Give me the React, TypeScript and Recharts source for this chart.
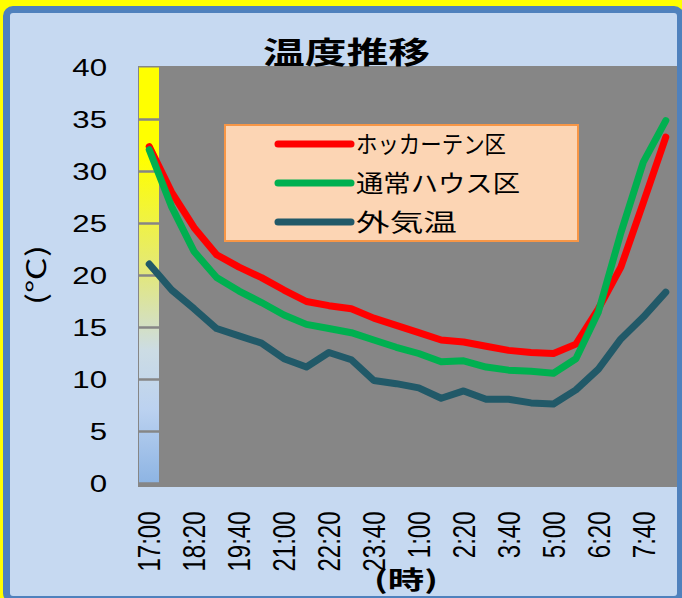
import { ComposedChart, Bar, Line, XAxis, YAxis, Legend } from 'recharts';

// 40-minute readings, 17:00 to 8:20 next morning
const times = [
  '17:00', '17:40', '18:20', '19:00', '19:40', '20:20', '21:00', '21:40',
  '22:20', '23:00', '23:40', '0:20', '1:00', '1:40', '2:20', '3:00',
  '3:40', '4:20', '5:00', '5:40', '6:20', '7:00', '7:40', '8:20',
];
const curtainTemps = [
  32.4, 28.0, 24.6, 22.0, 20.8, 19.8, 18.6, 17.5, 17.1, 16.8, 15.9, 15.2,
  14.5, 13.8, 13.6, 13.2, 12.8, 12.6, 12.5, 13.4, 16.8, 20.8, 27.0, 33.3,
];
const normalTemps = [
  32.1, 26.6, 22.3, 19.8, 18.5, 17.4, 16.2, 15.3, 14.9, 14.5, 13.8, 13.1,
  12.5, 11.7, 11.8, 11.2, 10.9, 10.8, 10.6, 12.0, 16.5, 24.1, 30.9, 34.9,
];
const outsideTemps = [
  21.1, 18.6, 16.8, 14.9, 14.2, 13.5, 12.0, 11.2, 12.6, 11.9, 9.9, 9.6,
  9.2, 8.2, 8.9, 8.1, 8.1, 7.75, 7.65, 9.0, 11.0, 13.9, 16.0, 18.4,
];
// colour scale column drawn in the first slot
const warmBand = [40];
const yTicks = [0, 5, 10, 15, 20, 25, 30, 35, 40];

const data = times.map((time, i) => ({
  time,
  curtain: curtainTemps[i],
  normal: normalTemps[i],
  outside: outsideTemps[i],
  band: warmBand[i] ?? null,
}));

const seriesOrder = ['curtain', 'normal', 'outside'];

const GRAY = '#868686';
const LATIN = '"Liberation Sans", Arial, sans-serif';
const CJK = '"Noto Sans CJK JP", sans-serif';

// legend text widths (the source picture is stretched sideways)
const legendWidths: Record<string, number> = {
  'ホッカーテン区': 150,
  '通常ハウス区': 164,
  '外気温': 101,
};

function BandShape(props: any) {
  const { x, y, width, height, payload } = props;
  if (!height || payload.band == null) return null;
  const top = payload.band;
  return (
    <g>
      <rect x={x} y={y} width={width} height={height} fill="url(#bandGrad)" />
      {yTicks
        .filter((t) => t < top)
        .map((t) => {
          const gy = y + height * (1 - t / top);
          return (
            <line key={t} x1={x} x2={x + width} y1={gy} y2={gy} stroke={GRAY} strokeWidth={2.5} />
          );
        })}
    </g>
  );
}

function YTick({ x, y, payload }: any) {
  return (
    <text
      transform={`translate(${x},${y}) scale(1.3,1)`}
      textAnchor="end"
      dy="0.36em"
      fontSize={24}
      fontFamily={LATIN}
      fill="#000"
    >
      {payload.value}
    </text>
  );
}

function XTick({ x, y, payload }: any) {
  return (
    <text
      transform={`translate(${x},${y}) scale(1.3,1) rotate(-90)`}
      textAnchor="end"
      dy="0.36em"
      fontSize={24}
      fontFamily={LATIN}
      fill="#000"
    >
      {payload.value}
    </text>
  );
}

function LegendBox({ payload }: any) {
  const items = (payload || [])
    .filter((e: any) => e.type !== 'none' && seriesOrder.includes(e.dataKey))
    .sort((a: any, b: any) => seriesOrder.indexOf(a.dataKey) - seriesOrder.indexOf(b.dataKey));
  return (
    <div
      style={{
        width: 355,
        height: 118,
        boxSizing: 'border-box',
        background: '#FCD5B4',
        border: '2px solid #F79646',
      }}
    >
      <svg width={351} height={114} style={{ display: 'block' }}>
        {items.map((e: any, i: number) => {
          const cy = 18 + i * 39;
          return (
            <g key={e.value}>
              <line x1={52} x2={125} y1={cy} y2={cy} stroke={e.color} strokeWidth={7} strokeLinecap="round" />
              <text
                x={130}
                y={cy}
                dy="0.36em"
                fontSize={24}
                fontFamily={CJK}
                fill="#000"
                textLength={legendWidths[e.value]}
                lengthAdjust="spacingAndGlyphs"
              >
                {e.value}
              </text>
            </g>
          );
        })}
      </svg>
    </div>
  );
}

export default function App() {
  return (
    <div
      style={{
        position: 'absolute',
        left: 0,
        top: 0,
        width: 682,
        height: 598,
        background: '#FFFF00',
        overflow: 'hidden',
      }}
    >
      <div
        style={{
          position: 'absolute',
          left: 3,
          top: 6,
          width: 667,
          height: 583,
          border: '7px solid #4F81BD',
          borderRadius: 10,
          background: '#C6D9F1',
        }}
      />
      <div
        style={{
          position: 'absolute',
          left: 138,
          top: 66,
          width: 539,
          height: 421,
          background: GRAY,
        }}
      />
      <div style={{ position: 'absolute', left: 0, top: 0 }}>
        <ComposedChart
          width={682}
          height={598}
          data={data}
          margin={{ top: 67.5, right: 5, bottom: 54.5, left: 0 }}
        >
          <defs>
            <linearGradient id="bandGrad" x1="0" y1="0" x2="0" y2="1">
              <stop offset="0%" stopColor="#FFFF00" />
              <stop offset="22%" stopColor="#FFFF00" />
              <stop offset="50%" stopColor="#E2E77E" />
              <stop offset="68%" stopColor="#CCDCE4" />
              <stop offset="82%" stopColor="#BCD2F0" />
              <stop offset="100%" stopColor="#8DB4E3" />
            </linearGradient>
          </defs>
          <XAxis
            dataKey="time"
            interval={1}
            axisLine={false}
            tickLine={false}
            tickSize={0}
            tickMargin={28}
            height={60}
            tick={<XTick />}
          />
          <YAxis
            domain={[0, 40]}
            ticks={yTicks}
            axisLine={false}
            tickLine={false}
            tickSize={0}
            tickMargin={31}
            width={138}
            tick={<YTick />}
          />
          <Legend
            layout="horizontal"
            verticalAlign="middle"
            align="center"
            wrapperStyle={{ left: 224, top: 124, width: 355, height: 118 }}
            content={<LegendBox />}
          />
          <Bar dataKey="band" barSize={20} legendType="none" isAnimationActive={false} shape={BandShape} />
          <Line
            type="linear"
            dataKey="curtain"
            name="ホッカーテン区"
            stroke="#FF0000"
            strokeWidth={7}
            strokeLinecap="round"
            strokeLinejoin="round"
            dot={false}
            activeDot={false}
            isAnimationActive={false}
          />
          <Line
            type="linear"
            dataKey="normal"
            name="通常ハウス区"
            stroke="#00B050"
            strokeWidth={7}
            strokeLinecap="round"
            strokeLinejoin="round"
            dot={false}
            activeDot={false}
            isAnimationActive={false}
          />
          <Line
            type="linear"
            dataKey="outside"
            name="外気温"
            stroke="#215968"
            strokeWidth={7}
            strokeLinecap="round"
            strokeLinejoin="round"
            dot={false}
            activeDot={false}
            isAnimationActive={false}
          />
          <text
            x={346.5}
            y={63}
            textAnchor="middle"
            fontSize={30}
            fontWeight="bold"
            fontFamily={CJK}
            fill="#000"
            textLength={167}
            lengthAdjust="spacingAndGlyphs"
          >
            温度推移
          </text>
          <text
            transform="translate(36,275) scale(1.1,1) rotate(-90)"
            textAnchor="middle"
            dy="0.36em"
            fontSize={24}
            fontFamily={CJK}
            fill="#000"
            textLength={60}
            lengthAdjust="spacingAndGlyphs"
          >
            (℃)
          </text>
          <text
            x={406}
            y={589}
            textAnchor="middle"
            fontSize={25}
            fontWeight="bold"
            fontFamily={CJK}
            fill="#000"
            textLength={64}
            lengthAdjust="spacingAndGlyphs"
          >
            (時)
          </text>
        </ComposedChart>
      </div>
    </div>
  );
}
